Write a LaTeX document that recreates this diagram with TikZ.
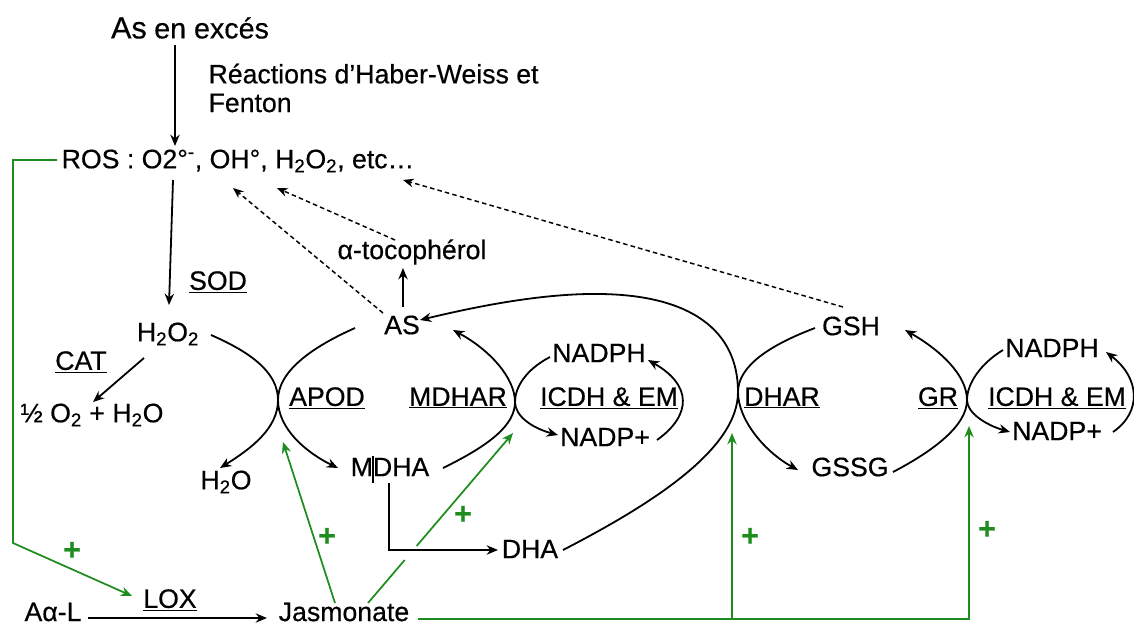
\documentclass[tikz,border=0pt]{standalone}
\usepackage{fontspec}
\setmainfont{Liberation Sans}[FakeBold=0.45]
\usetikzlibrary{arrows.meta}
\definecolor{vert}{RGB}{30,140,30}
\begin{document}
\begin{tikzpicture}[x=0.75pt,y=-0.75pt,
  every node/.style={font=\fontsize{20}{21.5}\selectfont, inner sep=1pt},
  arr/.style={line width=1.35pt, -{Stealth[length=8.5pt,width=7pt]}},
  ln/.style={line width=1.35pt},
  darr/.style={line width=1.1pt, dash pattern=on 3.4pt off 2.4pt, -{Stealth[length=8pt,width=6.5pt]}},
  garr/.style={vert, line width=1.3pt, -{Stealth[length=8.5pt,width=7pt]}},
  gln/.style={vert, line width=1.3pt},
  plus/.style={text=vert, font=\fontsize{23}{24}\selectfont\bfseries},
]
\useasboundingbox (0,0) rectangle (1134,626);

% ---------- nodes ----------
\node (asx) at (190,28) {{\fontsize{23}{24}\selectfont As} {\fontsize{21.5}{22}\selectfont en excés}};
\node[align=left, anchor=west] (hw) at (207,88) {Réactions d’Haber-Weiss et\\Fenton};
\node (ros) at (238,161) {ROS : O2°\textsuperscript{-}, OH°, H\textsubscript{2}O\textsubscript{2}, etc…};
\node (toco) at (412,252) {α-tocophérol};
\node (sod) at (218,282) {\underline{SOD}};
\node (h2o2) at (168,334) {H\textsubscript{2}O\textsubscript{2}};
\node (cat) at (81,362) {\underline{CAT}};
\node (half) at (92,415) {½ O\textsubscript{2} + H\textsubscript{2}O};
\node (h2o) at (226,482) {H\textsubscript{2}O};
\node (apod) at (327,398) {\underline{APOD}};
\node (as) at (402,325) {AS};
\node (mdha) at (390,467) {MDHA};
\node (mdhar) at (458,398) {\underline{MDHAR}};
\node (nadph1) at (599,353) {NADPH};
\node (icdh1) at (609,398) {\underline{ICDH \& EM}};
\node (nadp1) at (605,437) {NADP+};
\node (dha) at (530,549) {DHA};
\node (dhar) at (782,398) {\underline{DHAR}};
\node (gsh) at (851,326) {GSH};
\node (gssg) at (850,467) {GSSG};
\node (gr) at (938,398) {\underline{GR}};
\node (icdh2) at (1057,398) {\underline{ICDH \& EM}};
\node (nadph2) at (1052,348) {NADPH};
\node (nadp2) at (1057,431) {NADP+};
\node (aal) at (53,612) {Aα-L};
\node (lox) at (170,600) {\underline{LOX}};
\node (jas) at (344,612) {Jasmonate};

\node[plus] (p1) at (72,551) {+};
\node[plus] (p2) at (327,537) {+};
\node[plus] (p3) at (463,515) {+};
\node[plus] (p4) at (750,537) {+};
\node[plus] (p5) at (987,530) {+};

% ---------- ports and junctions ----------
\coordinate (asx-d) at (175,45);   \coordinate (ros-u) at (175,146);
\coordinate (ros-d) at (173,180);  \coordinate (h2o2-u) at (169,305);
\coordinate (h2o2-dl) at (144,358); \coordinate (half-u) at (93,402);
\coordinate (h2o2-r) at (211,335); \coordinate (xa) at (278,400); \coordinate (h2o-u) at (220,468);
\coordinate (as-l) at (355,328);   \coordinate (mdha-l) at (338,468);
\coordinate (mdha-r) at (443,468); \coordinate (xm) at (515,402); \coordinate (as-dr) at (453,330);
\coordinate (nadph1-l) at (550,357); \coordinate (nadp1-l) at (558,435);
\coordinate (nadp1-r) at (657,440); \coordinate (nadph1-r) at (648,360);
\coordinate (as-u) at (403,307);   \coordinate (toco-d) at (403,268);
\coordinate (as-ul) at (383,313);  \coordinate (ros-a) at (233,188);
\coordinate (toco-ul) at (395,240); \coordinate (ros-b) at (277,188);
\coordinate (gsh-ul) at (843,307); \coordinate (ros-c) at (403,180);
\coordinate (mdha-d) at (389,483); \coordinate (dha-l) at (498,550);
\coordinate (dha-r) at (563,550);  \coordinate (xd) at (738,392); \coordinate (as-r) at (420,320);
\coordinate (gsh-l) at (815,328);  \coordinate (gssg-l) at (798,470);
\coordinate (gssg-r) at (893,472); \coordinate (xg) at (967,400); \coordinate (gsh-r) at (905,330);
\coordinate (nadph2-l) at (1003,350); \coordinate (nadp2-l) at (1010,432);
\coordinate (nadp2-r) at (1113,432); \coordinate (nadph2-r) at (1106,352);
\coordinate (aal-r) at (88,618);   \coordinate (jas-l) at (267,618);
\coordinate (ros-l) at (57,160);   \coordinate (gc1) at (13,160); \coordinate (gc2) at (13,543);
\coordinate (lox-l) at (132,596);
\coordinate (jas-u1) at (335,603); \coordinate (xa-g) at (283,442);
\coordinate (jas-u2) at (368,603); \coordinate (hop1) at (404.7,560); \coordinate (hop2) at (416.6,546);
\coordinate (xm-g) at (513,433);
\coordinate (jas-r) at (418,619); \coordinate (gb1) at (732,619); \coordinate (gb2) at (969,619);
\coordinate (xd-g) at (732,433); \coordinate (xg-g) at (969,426);
\coordinate (bar-t) at (373,456); \coordinate (bar-b) at (373,483);

% ---------- black connectors ----------
\draw[arr] (asx-d) -- (ros-u);
\draw[arr] (ros-d) -- (h2o2-u);
\draw[arr] (h2o2-dl) -- (half-u);
\draw[arr] (as-u) -- (toco-d);
\draw[arr] (aal-r) -- (jas-l);
\draw[arr] (mdha-d) |- (dha-l);
\draw[line width=0.9pt] (bar-t) -- (bar-b);

% APOD
\draw[arr] (h2o2-r) .. controls (250,352) and (278,372) .. (xa) .. controls (278,428) and (252,448) .. (h2o-u);
\draw[arr] (as-l) .. controls (310,348) and (278,372) .. (xa) .. controls (278,428) and (305,452) .. (mdha-l);
% MDHAR
\draw[arr] (mdha-r) .. controls (490,445) and (515,425) .. (xm) .. controls (515,378) and (490,350) .. (as-dr);
\draw[arr] (nadph1-l) .. controls (525,370) and (515,388) .. (xm) .. controls (515,416) and (532,428) .. (nadp1-l);
\draw[arr] (nadp1-r) .. controls (692,415) and (692,385) .. (nadph1-r);
% DHAR
\draw[arr] (dha-r) .. controls (650,505) and (738,450) .. (xd) .. controls (738,330) and (690,295) .. (600,294) .. controls (540,293) and (470,308) .. (as-r);
\draw[arr] (gsh-l) .. controls (770,345) and (738,366) .. (xd) .. controls (738,420) and (765,452) .. (gssg-l);
% GR
\draw[arr] (gssg-r) .. controls (935,450) and (967,425) .. (xg) .. controls (967,375) and (940,350) .. (gsh-r);
\draw[arr] (nadph2-l) .. controls (980,364) and (967,384) .. (xg) .. controls (967,413) and (986,425) .. (nadp2-l);
\draw[arr] (nadp2-r) .. controls (1142,412) and (1140,378) .. (nadph2-r);

% dashed
\draw[darr] (as-ul) -- (ros-a);
\draw[darr] (toco-ul) -- (ros-b);
\draw[darr] (gsh-ul) -- (ros-c);

% ---------- green connectors ----------
\draw[garr] (ros-l) -- (gc1) -- (gc2) -- (lox-l);
\draw[garr] (jas-u1) -- (xa-g);
\draw[gln] (jas-u2) -- (hop1);
\draw[garr] (hop2) -- (xm-g);
\draw[garr] (jas-r) -- (gb2) -- (xg-g);
\draw[garr] (gb1) -- (xd-g);
\end{tikzpicture}
\end{document}
